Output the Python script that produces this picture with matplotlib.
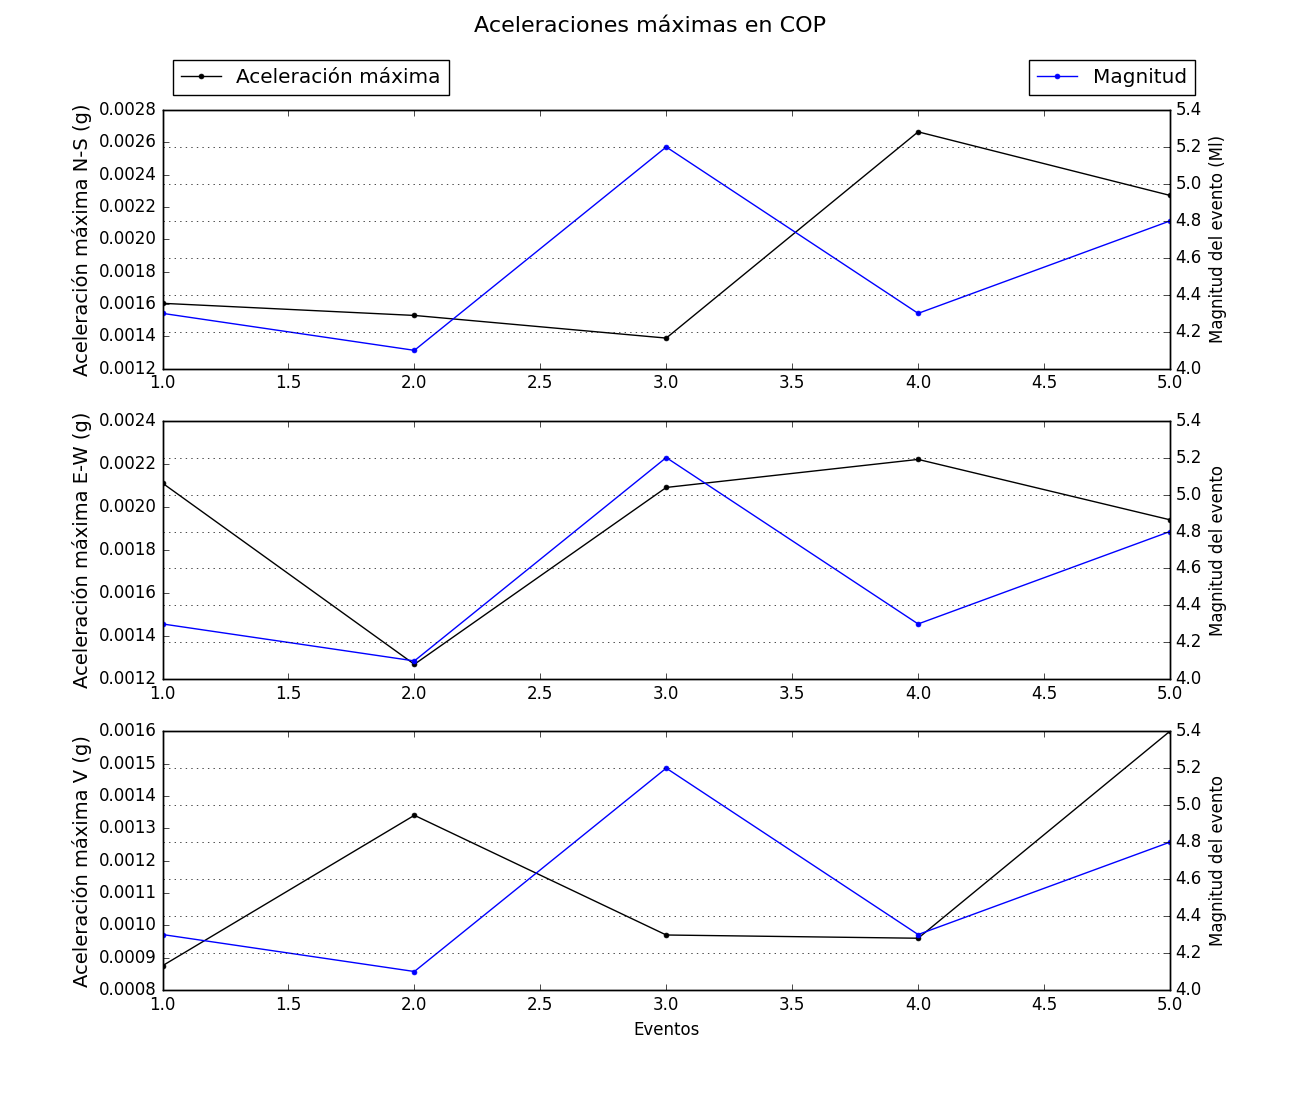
import numpy as np
import matplotlib
matplotlib.use("Agg")
import matplotlib.pyplot as plt

plt.style.use('classic')

eventos = [1, 2, 3, 4, 5]
magnitud = [4.3, 4.1, 5.2, 4.3, 4.8]
acel_ns = [0.001605, 0.00153, 0.00139, 0.002665, 0.002272]
acel_ew = [0.00211, 0.00127, 0.00209, 0.00222, 0.00194]
acel_v = [0.000875, 0.00134, 0.00097, 0.00096, 0.0016]

componentes = [acel_ns, acel_ew, acel_v]
etiquetas = ['Aceleración máxima N-S (g)', 'Aceleración máxima E-W (g)', 'Aceleración máxima V (g)']
etiquetas_mag = ['Magnitud del evento (Ml)', 'Magnitud del evento', 'Magnitud del evento']
limites = [(0.0012, 0.0028), (0.0012, 0.0024), (0.0008, 0.0016)]

fig, axes = plt.subplots(3, 1, figsize=(13, 11), dpi=100)
fig.patch.set_facecolor('white')
fig.suptitle('Aceleraciones máximas en COP', fontsize=16, y=0.985)

for i, ax in enumerate(axes):
    l1, = ax.plot(eventos, componentes[i], 'k.-', markersize=7, label='Aceleración máxima')
    ax.set_ylim(*limites[i])
    ax.set_xlim(1, 5)
    ax.set_ylabel(etiquetas[i], fontsize=14)
    ax.get_yaxis().get_major_formatter().set_useOffset(False)

    ax2 = ax.twinx()
    l2, = ax2.plot(eventos, magnitud, 'b.-', markersize=7, label='Magnitud')
    ax2.set_ylim(4.0, 5.4)
    ax2.set_xlim(1, 5)
    ax2.set_ylabel(etiquetas_mag[i], fontsize=12)
    ax2.yaxis.grid(True)

    if i == 0:
        ax.legend(handles=[l1], loc='lower left', bbox_to_anchor=(0.0, 1.02),
                  numpoints=1, fontsize=14.4)
        ax2.legend(handles=[l2], loc='lower right', bbox_to_anchor=(1.035, 1.02),
                   numpoints=1, fontsize=14.4)

axes[-1].set_xlabel('Eventos', fontsize=12)

fig.savefig('out.png', dpi=100, facecolor='white')
